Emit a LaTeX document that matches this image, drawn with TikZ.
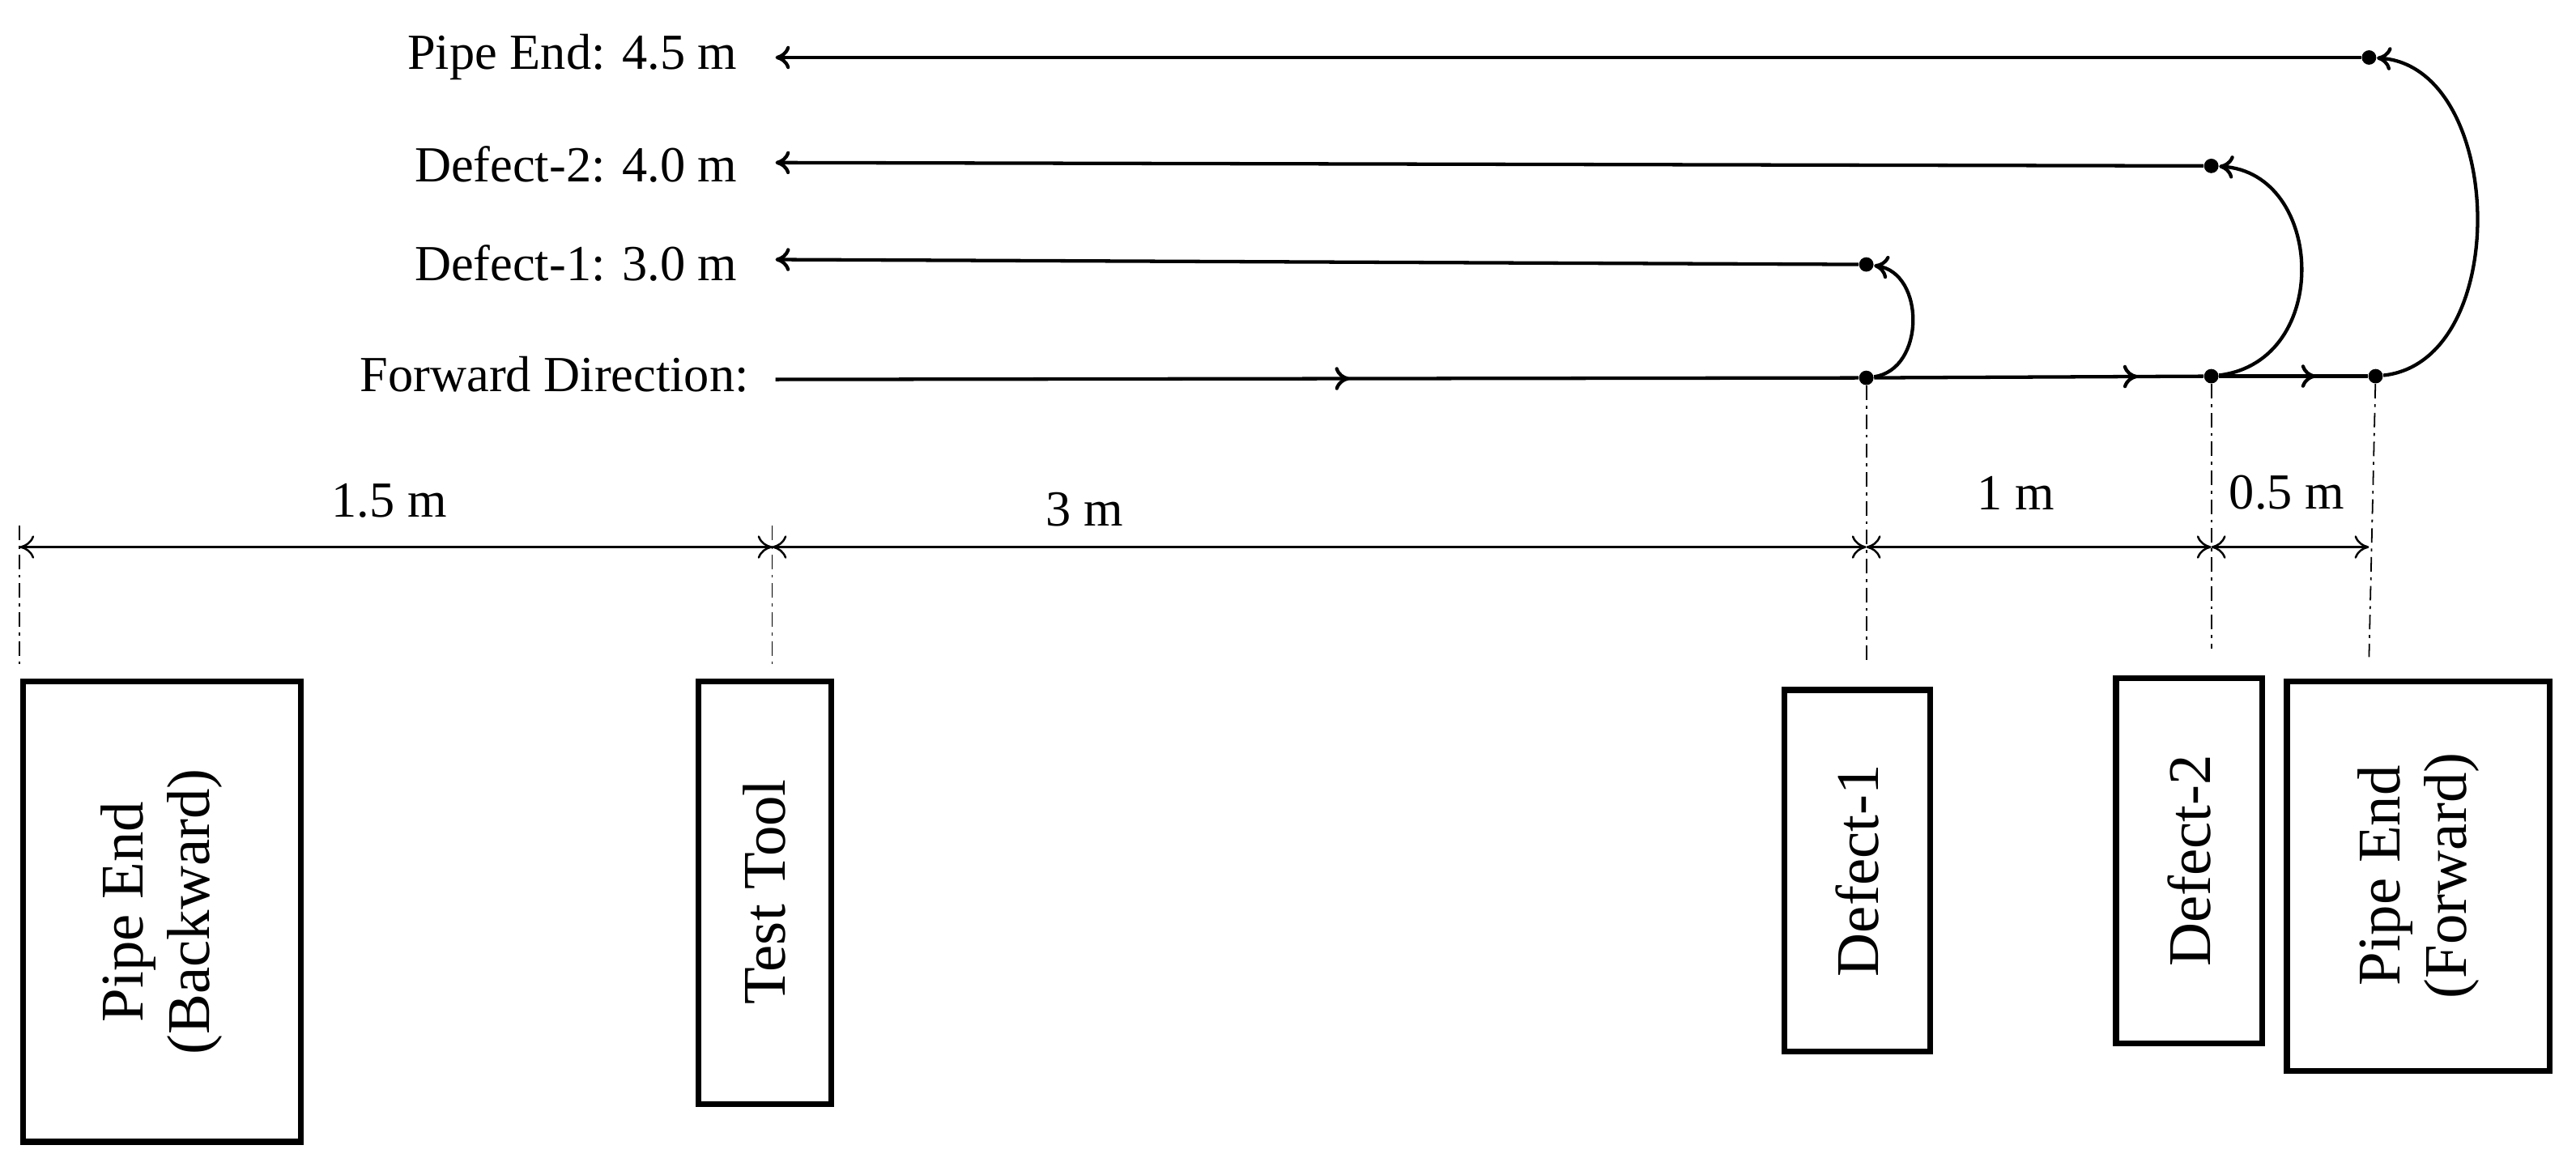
\documentclass[tikz,border=0pt]{standalone}
\usepackage{fontspec}
\setmainfont{Liberation Serif}
\usetikzlibrary{arrows.meta,decorations.markings}
\begin{document}
\begin{tikzpicture}[x=0.02cm,y=-0.02cm,
  ln/.style={line width=1.2pt},
  arr/.style={ln,-{To[length=5pt,width=8pt]}},
  dim/.style={line width=0.7pt,{To[length=5pt,width=8pt]}-{To[length=5pt,width=8pt]}},
  dd/.style={line width=0.5pt,dash pattern=on 5pt off 2pt on 1pt off 2pt},
  lab/.style={anchor=east,font=\fontsize{17.5}{19}\selectfont},
  dlab/.style={font=\fontsize{17.5}{19}\selectfont},
  box/.style={draw,line width=2pt,inner sep=0pt},
  btxt/.style={rotate=90,align=center,font=\fontsize{21}{23}\selectfont},
  dot/.style={circle,fill,inner sep=0pt,minimum size=5pt},
  mid/.style={postaction={decorate},decoration={markings,mark=at position #1 with {\arrow{To[length=5pt,width=8pt]}}}}]
\useasboundingbox (0,0) rectangle (1568,715);
% labels
\node[lab] (l1) at (455,35) {Pipe End: 4.5 m};
\node[lab] (l2) at (455,100) {Defect-2: 4.0 m};
\node[lab] (l3) at (455,160) {Defect-1: 3.0 m};
\node[lab] (l4) at (462,228) {Forward Direction:};
% dots
\node[dot] (t1) at (1442,35) {};
\node[dot] (t2) at (1346,101) {};
\node[dot] (t3) at (1136,161) {};
\coordinate (f0) at (472,231);
\node[dot] (b1) at (1136,230) {};
\node[dot] (b2) at (1346,229) {};
\node[dot] (b3) at (1446,229) {};
\coordinate (e1) at (472,35);
\coordinate (e2) at (472,99);
\coordinate (e3) at (472,158);
\draw[arr] (t1) -- (e1);
\draw[arr] (t2) -- (e2);
\draw[arr] (t3) -- (e3);
\draw[ln,mid=0.53] (f0) -- (b1);
\draw[ln,mid=0.8] (b1) -- (b2);
\draw[ln,mid=0.65] (b2) -- (b3);
\draw[arr] (b1) .. controls (1172,225) and (1172,166) .. (t3);
\draw[arr] (b2) .. controls (1420,220) and (1415,105) .. (t2);
\draw[arr] (b3) .. controls (1530,220) and (1525,40) .. (t1);
% dash-dot verticals
\coordinate (v0) at (12,333); \coordinate (v1) at (470,333);
\coordinate (v2) at (1136,333); \coordinate (v3) at (1346,333); \coordinate (v4) at (1442,333);
\draw[dd] (12,320) -- (12,405);
\draw[dd] (470,320) -- (470,405);
\draw[dd] (b1) -- (1136,405);
\draw[dd] (b2) -- (1346,395);
\draw[dd] (b3) -- (1442,400);
\draw[dim] (v0) -- (v1);
\draw[dim] (v1) -- (v2);
\draw[dim] (v2) -- (v3);
\draw[dim] (v3) -- (v4);
\node[dlab] (d1) at (237,305) {1.5 m};
\node[dlab] (d2) at (660,310) {3 m};
\node[dlab] (d3) at (1227,300) {1 m};
\node[dlab] (d4) at (1392,300) {0.5 m};
% boxes
\draw[box] (14,415) rectangle (183,695);
\node[btxt] (n1) at (98.5,555) {Pipe End\\(Backward)};
\draw[box] (425,415) rectangle (506,672);
\node[btxt] (n2) at (465.5,543) {Test Tool};
\draw[box] (1086,420) rectangle (1175,640);
\node[btxt] (n3) at (1130.5,530) {Defect-1};
\draw[box] (1288,413) rectangle (1377,635);
\node[btxt] (n4) at (1332.5,524) {Defect-2};
\draw[box] (1392,415) rectangle (1552,652);
\node[btxt] (n5) at (1472,533) {Pipe End\\(Forward)};
\end{tikzpicture}
\end{document}
